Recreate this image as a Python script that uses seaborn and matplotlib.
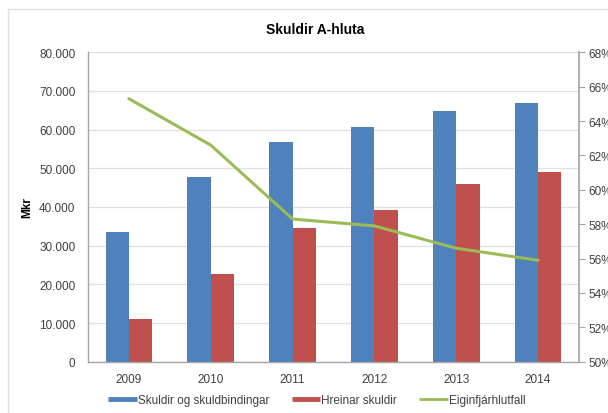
import matplotlib
import matplotlib.pyplot as plt
import numpy as np
import pandas as pd
import seaborn as sns
from matplotlib.lines import Line2D
from matplotlib.patches import Rectangle
from matplotlib.ticker import FuncFormatter, MultipleLocator

matplotlib.use("Agg")

# data
years = ["2009", "2010", "2011", "2012", "2013", "2014"]
skuldir = [33600, 47700, 56900, 60700, 64700, 66900]
hreinar = [11000, 22600, 34500, 39200, 45900, 49100]
eiginfjar = [0.653, 0.626, 0.583, 0.579, 0.566, 0.559]
series_names = ["Skuldir og skuldbindingar", "Hreinar skuldir", "Eiginfjárhlutfall"]

BLUE = "#4F81BD"
RED = "#C0504D"
GREEN = "#9BBB59"
GRID = "#E0E0E0"
AXIS = "#A6A6A6"
TEXT = "#404040"

sns.set_theme(style="white")
plt.rcParams["font.family"] = ["Liberation Sans", "DejaVu Sans"]
plt.rcParams["font.size"] = 8.5

df = pd.DataFrame({
    "year": years * 2,
    "value": skuldir + hreinar,
    "series": [series_names[0]] * len(years) + [series_names[1]] * len(years),
})

fig = plt.figure(figsize=(6.08, 4.14), dpi=100)
ax = fig.add_axes([88 / 608, 1 - 362.7 / 414, 491 / 608, (362.7 - 53.3) / 414])

sns.barplot(data=df, x="year", y="value", hue="series", palette=[BLUE, RED],
            width=0.57, gap=0, saturation=1, linewidth=0, ax=ax, legend=False)
ax.set_xlim(-0.5, len(years) - 0.5)
ax.set_ylim(0, 80000)
ax.yaxis.set_major_locator(MultipleLocator(10000))
ax.yaxis.set_major_formatter(FuncFormatter(lambda v, _: f"{int(v):,}".replace(",", ".")))
ax.grid(axis="y", color=GRID, lw=0.9)
ax.set_axisbelow(True)
ax.set_xlabel("")
ax.set_ylabel("Mkr", fontweight="bold", fontsize=8.5, color="black")
ax.yaxis.set_label_coords(-0.112, 0.5)
ax.tick_params(axis="y", length=0, pad=9, colors=TEXT, labelsize=8.5)
ax.tick_params(axis="x", length=0, pad=8, colors=TEXT, labelsize=8.5)
for side in ["top", "right"]:
    ax.spines[side].set_visible(False)
for side in ["left", "bottom"]:
    ax.spines[side].set_color(AXIS)
    ax.spines[side].set_linewidth(1)

ax2 = ax.twinx()
sns.lineplot(x=np.arange(len(years)), y=eiginfjar, ax=ax2, color=GREEN, lw=2.2)
ax2.set_ylim(0.50, 0.68)
ax2.yaxis.set_major_locator(MultipleLocator(0.02))
ax2.yaxis.set_major_formatter(FuncFormatter(lambda v, _: f"{v * 100:.0f}%"))
ax2.tick_params(axis="y", length=4, width=0.8, pad=3, colors=TEXT, labelsize=8.5)
ax2.tick_params(axis="y", color=AXIS)
for side in ["top", "left", "bottom"]:
    ax2.spines[side].set_visible(False)
ax2.spines["right"].set_color(AXIS)
ax2.set_ylabel("")

fig.text(315 / 608, 1 - 30 / 414, "Skuldir A-hluta", ha="center", va="center",
         fontsize=10, fontweight="bold", color="black")

handles = [
    Line2D([], [], color=BLUE, lw=3.5, solid_capstyle="butt"),
    Line2D([], [], color=RED, lw=3.5, solid_capstyle="butt"),
    Line2D([], [], color=GREEN, lw=2, solid_capstyle="butt"),
]
fig.legend(handles, series_names, loc="center", bbox_to_anchor=(317 / 608, 1 - 401 / 414),
           ncol=3, frameon=False, handlelength=2.4, handletextpad=0.1,
           columnspacing=1.9, fontsize=8.5, labelcolor=TEXT)

# outer chart frame, cut off on the right and bottom like the reference
fig.patches.append(Rectangle((8 / 608, -0.1), 1.2, 1.1 - 10 / 414, transform=fig.transFigure,
                             fill=False, edgecolor=GRID, lw=1))

fig.savefig("out.png", dpi=100)
